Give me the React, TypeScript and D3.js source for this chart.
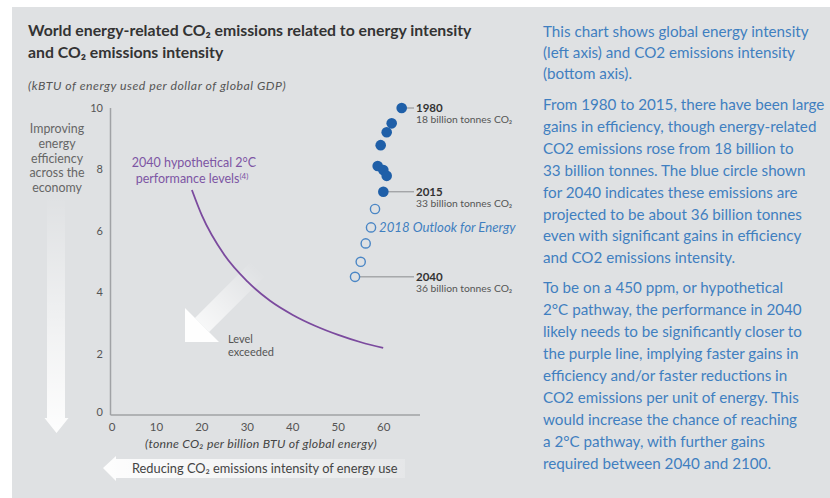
import React from "react";
import * as d3 from "d3";

const years = [1980, 1985, 1990, 1995, 2000, 2005, 2010, 2015, 2020, 2025, 2030, 2035, 2040];
const co2Intensity = [63.97, 61.77, 60.67, 59.35, 58.69, 59.93, 60.67, 59.93, 58.1, 57.22, 56.05, 54.95, 53.7];
const energyIntensity = [10.0, 9.5, 9.21, 8.79, 8.11, 7.98, 7.79, 7.27, 6.71, 6.11, 5.59, 4.99, 4.5];
const lastHistoricYear = 2015;

const curveX = [17.8, 20, 25, 30, 35, 40, 45, 50, 55, 59.9];
const curveY = [7.33, 6.5, 5.2, 4.35, 3.72, 3.26, 2.9, 2.61, 2.37, 2.19];

const xTicks = [0, 10, 20, 30, 40, 50, 60];
const yTicks = [0, 2, 4, 6, 8, 10];

const callouts = [
  { year: 1980, label: "1980", sub: "18 billion tonnes CO\u2082" },
  { year: 2015, label: "2015", sub: "33 billion tonnes CO\u2082" },
  { year: 2040, label: "2040", sub: "36 billion tonnes CO\u2082" },
];

const titleLines = [
  "World energy-related CO\u2082 emissions related to energy intensity",
  "and CO\u2082 emissions intensity",
];
const yAxisTitle = "(kBTU of energy used per dollar of global GDP)";
const xAxisTitle = "(tonne CO\u2082 per billion BTU of global energy)";
const bottomArrowLabel = "Reducing CO\u2082 emissions intensity of energy use";
const outlookLabel = "2018 Outlook for Energy";
const leftLabelLines = ["Improving", "energy", "efficiency", "across the", "economy"];
const para1 = [
  "This chart shows global energy intensity",
  "(left axis) and CO2 emissions intensity",
  "(bottom axis).",
];
const para2 = [
  "From 1980 to 2015, there have been large",
  "gains in efficiency, though energy-related",
  "CO2 emissions rose from 18 billion to",
  "33 billion tonnes. The blue circle shown",
  "for 2040 indicates these emissions are",
  "projected to be about 36 billion tonnes",
  "even with significant gains in efficiency",
  "and CO2 emissions intensity.",
];
const para3 = [
  "To be on a 450 ppm, or hypothetical",
  "2\u00b0C pathway, the performance in 2040",
  "likely needs to be significantly closer to",
  "the purple line, implying faster gains in",
  "efficiency and/or faster reductions in",
  "CO2 emissions per unit of energy. This",
  "would increase the chance of reaching",
  "a 2\u00b0C pathway, with further gains",
  "required between 2040 and 2100.",
];

const FONT = "Lato, 'Open Sans', sans-serif";
const BLUE_TEXT = "#3f7fc0";
const DOT_BLUE = "#1f5fa8";
const PURPLE = "#7b4a9e";

export default function App() {
  const W = 830, H = 498;
  const x = d3.scaleLinear().domain([0, 68]).range([111, 420]);
  const y = d3.scaleLinear().domain([0, 10]).range([415, 108]);

  const points = years.map((yr, i) => ({ yr, cx: x(co2Intensity[i]), cy: y(energyIntensity[i]) }));
  const curvePts: [number, number][] = curveX.map((v, i) => [v, curveY[i]]);
  const line = d3
    .line<[number, number]>()
    .x((d) => x(d[0]))
    .y((d) => y(d[1]))
    .curve(d3.curveMonotoneX);

  // diagonal arrow geometry
  const C = { x: 185, y: 342 };
  const leg = 34;
  const M = { x: C.x + leg / 2, y: C.y - leg / 2 };
  const s = Math.SQRT1_2;
  const hw = 10;
  const L = 80;
  const E = { x: M.x + L * s, y: M.y - L * s };
  const diagShaft = [
    [M.x - hw * s, M.y - hw * s],
    [E.x - hw * s, E.y - hw * s],
    [E.x + hw * s, E.y + hw * s],
    [M.x + hw * s, M.y + hw * s],
  ];
  const diagHead = [
    [C.x, C.y],
    [C.x, C.y - leg],
    [C.x + leg, C.y],
  ];
  const poly = (pts: number[][]) => pts.map((p) => p.join(",")).join(" ");

  return (
    <div style={{ position: "absolute", left: 0, top: 0 }}>
      <svg width={W} height={H} style={{ display: "block" }} fontFamily={FONT}>
        <defs>
          <linearGradient id="gDown" gradientUnits="userSpaceOnUse" x1="0" y1="195" x2="0" y2="433">
            <stop offset="0" stopColor="#fff" stopOpacity="0" />
            <stop offset="0.6" stopColor="#fff" stopOpacity="0.6" />
            <stop offset="1" stopColor="#fff" stopOpacity="0.95" />
          </linearGradient>
          <linearGradient id="gDiag" gradientUnits="userSpaceOnUse" x1={C.x} y1={C.y} x2={E.x} y2={E.y}>
            <stop offset="0" stopColor="#fff" stopOpacity="0.95" />
            <stop offset="0.45" stopColor="#fff" stopOpacity="0.55" />
            <stop offset="1" stopColor="#fff" stopOpacity="0" />
          </linearGradient>
          <linearGradient id="gLeft" gradientUnits="userSpaceOnUse" x1="103" y1="0" x2="405" y2="0">
            <stop offset="0" stopColor="#fff" stopOpacity="0.95" />
            <stop offset="0.5" stopColor="#fff" stopOpacity="0.6" />
            <stop offset="1" stopColor="#fff" stopOpacity="0.2" />
          </linearGradient>
        </defs>
        <rect x={0} y={0} width={W} height={H} fill="#ffffff" />
        <rect x={12} y={7} width={W - 12} height={H - 7} fill="#dfe1e3" />

        {/* title */}
        <text fontSize={15.8} fontWeight={700} fill="#333">
          {titleLines.map((t, i) => (
            <tspan key={i} x={28} y={36 + i * 22}>
              {t}
            </tspan>
          ))}
        </text>
        <text x={28} y={90} fontSize={12.3} fontStyle="italic" letterSpacing={0.5} fill="#555">
          {yAxisTitle}
        </text>

        {/* left label and arrow */}
        <text textAnchor="middle" fontSize={12.4} fill="#666">
          {leftLabelLines.map((t, i) => (
            <tspan key={i} x={57} y={133 + i * 14.8}>
              {t}
            </tspan>
          ))}
        </text>
        <polygon points={poly([[47, 195], [65, 195], [65, 418], [68.5, 418], [56.5, 433], [44.5, 418], [47, 418]])} fill="url(#gDown)" />

        {/* axes */}
        <line x1={x(0) - 0.5} x2={x(0) - 0.5} y1={y(10)} y2={y(0)} stroke="#a0a2a5" strokeWidth={1.5} />
        <line x1={x(0) - 0.5} x2={x(68)} y1={y(0)} y2={y(0)} stroke="#a0a2a5" strokeWidth={1.5} />
        {yTicks.map((t) => (
          <text key={t} x={103} y={y(t) + (t === 0 ? 1 : 4)} textAnchor="end" fontSize={11} fill="#555">
            {t}
          </text>
        ))}
        {xTicks.map((t) => (
          <text key={t} x={x(t) + (t === 0 ? 1 : 0)} y={431} textAnchor="middle" fontSize={11.5} fill="#555">
            {t}
          </text>
        ))}
        <text x={261} y={448} textAnchor="middle" fontSize={12.3} fontStyle="italic" letterSpacing={0.25} fill="#444">
          {xAxisTitle}
        </text>

        {/* bottom arrow */}
        <polygon points={poly([[103, 468], [116, 456], [116, 459], [405, 459], [405, 478], [116, 478], [116, 481]])} fill="url(#gLeft)" />
        <text x={132} y={472.5} fontSize={12.8} fill="#444">
          {bottomArrowLabel}
        </text>

        {/* diagonal arrow */}
        <polygon points={poly(diagShaft)} fill="url(#gDiag)" />
        <polygon points={poly(diagHead)} fill="#fff" fillOpacity={0.95} />
        <text fontSize={11} fill="#555">
          <tspan x={228} y={343}>Level</tspan>
          <tspan x={228} y={356}>exceeded</tspan>
        </text>

        {/* purple curve */}
        <path d={line(curvePts) || ""} fill="none" stroke={PURPLE} strokeWidth={1.8} />
        <text textAnchor="middle" fontSize={12.5} fill="#7d55a3">
          <tspan x={194} y={167}>2040 hypothetical 2°C</tspan>
          <tspan x={192} y={183}>
            performance levels<tspan fontSize={8} dy={-4}>(4)</tspan>
          </tspan>
        </text>

        {/* callouts */}
        {callouts.map((c) => {
          const p = points.find((d) => d.yr === c.year)!;
          return (
            <g key={c.year}>
              <line x1={p.cx} x2={414} y1={p.cy} y2={p.cy} stroke="#8a8c8f" strokeWidth={1} />
              <text x={416} y={p.cy + 4} fontSize={11.5} fontWeight={700} fill="#333">
                {c.label}
              </text>
              <text x={416} y={p.cy + 15} fontSize={10.3} fill="#555">
                {c.sub}
              </text>
            </g>
          );
        })}

        {/* points */}
        {points.map((p) =>
          p.yr <= lastHistoricYear ? (
            <circle key={p.yr} cx={p.cx} cy={p.cy} r={5.3} fill={DOT_BLUE} />
          ) : (
            <circle key={p.yr} cx={p.cx} cy={p.cy} r={4.6} fill="#dfe1e3" stroke="#4a86c5" strokeWidth={1.4} />
          )
        )}
        <text x={379} y={231.5} fontSize={13.2} fontStyle="italic" fill={BLUE_TEXT}>
          {outlookLabel}
        </text>

        {/* right text */}
        <text fontSize={15.2} fill={BLUE_TEXT}>
          {para1.map((t, i) => (
            <tspan key={"a" + i} x={543} y={37 + i * 21}>
              {t}
            </tspan>
          ))}
          {para2.map((t, i) => (
            <tspan key={"b" + i} x={543} y={110 + i * 21.9}>
              {t}
            </tspan>
          ))}
          {para3.map((t, i) => (
            <tspan key={"c" + i} x={543} y={293 + i * 22}>
              {t}
            </tspan>
          ))}
        </text>
      </svg>
    </div>
  );
}
